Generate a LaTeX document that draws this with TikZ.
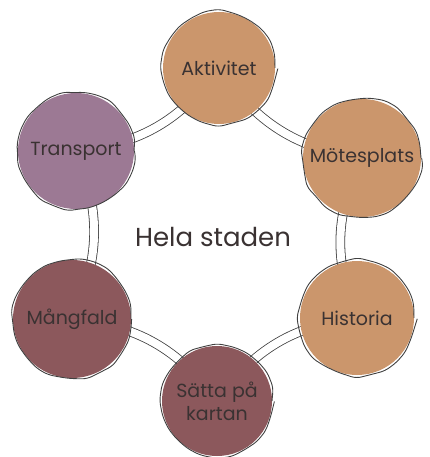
\documentclass[tikz,border=0pt]{standalone}
\usepackage{fontspec}
\setmainfont{Poppins}
\usetikzlibrary{decorations.pathmorphing,backgrounds}
\definecolor{tanCol}{RGB}{203,150,108}
\definecolor{lilacCol}{RGB}{156,121,148}
\definecolor{mauveCol}{RGB}{140,88,92}
\definecolor{inkCol}{RGB}{58,50,50}
\tikzset{
	blob/.style={
		circle
		,fill=#1
		,text=inkCol
		,font=\fontsize{19}{23}\selectfont
		,align=center
		,inner sep=0pt
		,postaction={draw=black!75
			,line width=0.9pt
			,decorate
			,decoration={random steps, segment length=14pt, amplitude=1.3pt}
			,rounded corners=5pt
		}
	},
	band/.style={
		draw=black!75
		,line width=0.8pt
		,double=white
		,double distance=8pt
	},
}
\begin{document}
\begin{tikzpicture}[x=1pt, y=-1pt]
\pgfmathsetseed{7}
\useasboundingbox (0,0) rectangle (430,457);
\node[text=inkCol, font=\fontsize{26}{30}\selectfont] (hela) at (213,237) {Hela staden};
% the six circles
\node[blob=tanCol, minimum size=112pt] (akt) at (219,68) {Aktivitet};
\node[blob=tanCol, minimum size=118pt] (mot) at (362,158) {Mötesplats};
\node[blob=tanCol, minimum size=114pt] (his) at (357,318) {Historia};
\node[blob=mauveCol, minimum size=110pt] (sat) at (217,401) {Sätta på\\kartan};
\node[blob=mauveCol, minimum size=118pt] (mang) at (72,319) {Mångfald};
\node[blob=lilacCol, minimum size=116pt] (trans) at (76,151) {Transport};
% ring of bands behind
\begin{scope}[on background layer]
\draw[band] (akt.center) to[bend right=24] (mot.center);
\draw[band] (mot.center) to[bend right=24] (his.center);
\draw[band] (his.center) to[bend right=24] (sat.center);
\draw[band] (sat.center) to[bend right=24] (mang.center);
\draw[band] (mang.center) to[bend right=24] (trans.center);
\draw[band] (trans.center) to[bend right=24] (akt.center);
\end{scope}
\end{tikzpicture}
\end{document}
